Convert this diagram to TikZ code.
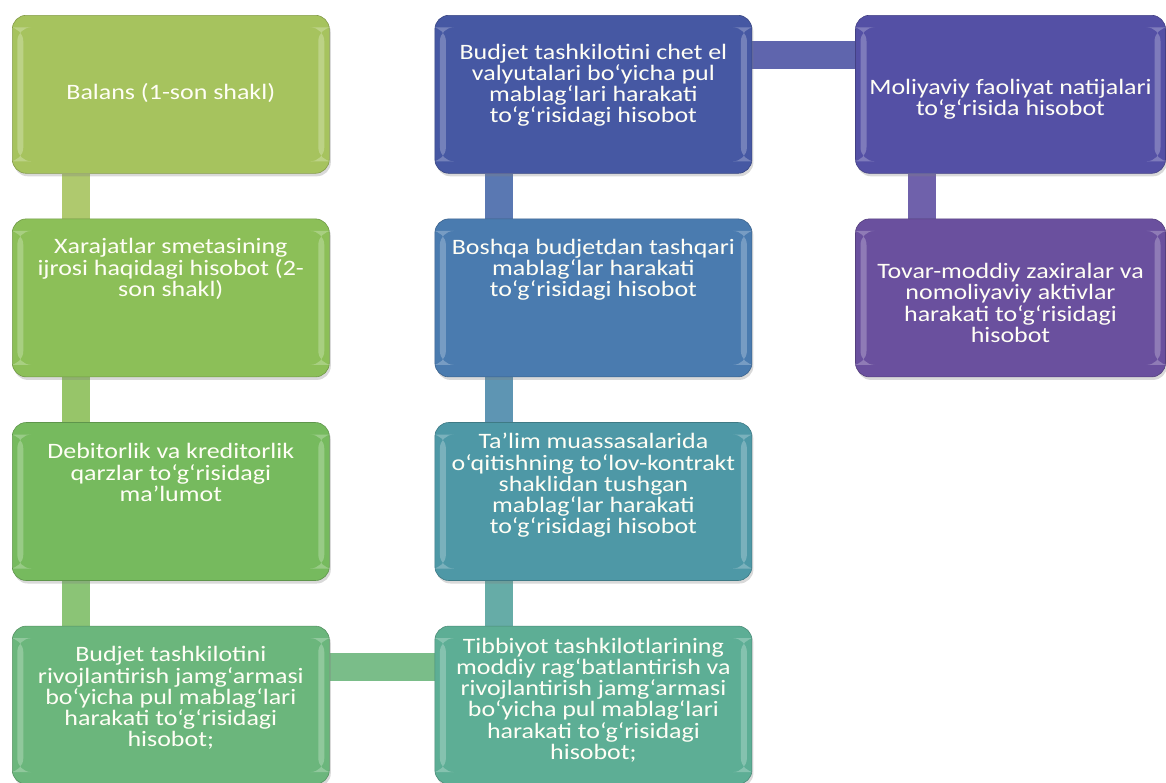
\documentclass[tikz,border=0pt]{standalone}
\usepackage{fontspec}
\newfontfamily\boxfont[FakeStretch=1.18]{Carlito}
\usetikzlibrary{positioning, shadows, backgrounds}

\definecolor{cBalans}{HTML}{A6C35E}
\definecolor{cXarajat}{HTML}{8CBF58}
\definecolor{cDebitor}{HTML}{76BA5E}
\definecolor{cRivoj}{HTML}{6BB67C}
\definecolor{cTibbiy}{HTML}{5DAE95}
\definecolor{cTalim}{HTML}{4E98A6}
\definecolor{cBoshqa}{HTML}{4A7BAF}
\definecolor{cValyuta}{HTML}{4658A3}
\definecolor{cMoliya}{HTML}{5450A5}
\definecolor{cTovar}{HTML}{6A509E}

\tikzset{
  repbox/.style={rectangle, rounded corners=14pt, fill=#1, draw=#1!80!black, line width=0.6pt,
    minimum width=317pt, minimum height=158pt, inner sep=0pt,
    drop shadow={shadow xshift=1.5pt, shadow yshift=-3pt, opacity=0.3},
    path picture={
      \fill[white, opacity=0.25] ([xshift=5pt,yshift=-12pt]path picture bounding box.north west)
        rectangle ([xshift=11pt,yshift=12pt]path picture bounding box.south west);
      \fill[white, opacity=0.25] ([xshift=-11pt,yshift=-12pt]path picture bounding box.north east)
        rectangle ([xshift=-5pt,yshift=12pt]path picture bounding box.south east);
    }},
  boxtext/.style={inner sep=0pt, align=center, text=white!96!yellow,
    font=\boxfont\fontsize{22}{21.2}\selectfont},
  bar/.style={line width=28pt}
}

\begin{document}
\begin{tikzpicture}[x=1pt, y=-1pt]
  \useasboundingbox (0,0) rectangle (1166,782);

  % boxes, first column
  \node[repbox=cBalans, anchor=north west] (a1) at (12,15) {};
  \node[repbox=cXarajat, below=45pt of a1] (a2) {};
  \node[repbox=cDebitor, below=45pt of a2] (a3) {};
  \node[repbox=cRivoj, below=45pt of a3] (a4) {};

  % second column
  \node[repbox=cValyuta, right=105pt of a1] (b1) {};
  \node[repbox=cBoshqa, below=45pt of b1] (b2) {};
  \node[repbox=cTalim, below=45pt of b2] (b3) {};
  \node[repbox=cTibbiy, below=45pt of b3] (b4) {};

  % third column
  \node[repbox=cMoliya, minimum width=310pt, right=103pt of b1] (c1) {};
  \node[repbox=cTovar, minimum width=310pt, below=45pt of c1] (c2) {};

  % texts
  \node[boxtext] (a1t) at ([yshift=1pt]a1.center) {Balans (1-son shakl)};
  \node[boxtext] (a2t) at ([yshift=29pt]a2.center) {Xarajatlar smetasining\\ijrosi haqidagi hisobot (2-\\son shakl)};
  \node[boxtext] (a3t) at ([yshift=29pt]a3.center) {Debitorlik va kreditorlik\\qarzlar to‘g‘risidagi\\ma’lumot};
  \node[boxtext] (a4t) at ([yshift=7pt]a4.center) {Budjet tashkilotini\\rivojlantirish jamg‘armasi\\bo‘yicha pul mablag‘lari\\harakati to‘g‘risidagi\\hisobot;};
  \node[boxtext] (b1t) at ([yshift=9pt]b1.center) {Budjet tashkilotini chet el\\valyutalari bo‘yicha pul\\mablag‘lari harakati\\to‘g‘risidagi hisobot};
  \node[boxtext] (b2t) at ([yshift=28pt]b2.center) {Boshqa budjetdan tashqari\\mablag‘lar harakati\\to‘g‘risidagi hisobot};
  \node[boxtext] (b3t) at ([yshift=16pt]b3.center) {Ta’lim muassasalarida\\o‘qitishning to‘lov-kontrakt\\shaklidan tushgan\\mablag‘lar harakati\\to‘g‘risidagi hisobot};
  \node[boxtext] (b4t) at ([yshift=5pt]b4.center) {Tibbiyot tashkilotlarining\\moddiy rag‘batlantirish va\\rivojlantirish jamg‘armasi\\bo‘yicha pul mablag‘lari\\harakati to‘g‘risidagi\\hisobot;};
  \node[boxtext] (c1t) at ([yshift=-5pt]c1.center) {Moliyaviy faoliyat natijalari\\to‘g‘risida hisobot};
  \node[boxtext] (c2t) at ([yshift=-5pt]c2.center) {Tovar-moddiy zaxiralar va\\nomoliyaviy aktivlar\\harakati to‘g‘risidagi\\hisobot};

  % connecting bars
  \begin{pgfonlayer}{background}
    \draw[bar, draw=cBalans!90!white] ([xshift=64pt]a1.south west) -- ([xshift=64pt]a2.north west);
    \draw[bar, draw=cXarajat!90!white] ([xshift=64pt]a2.south west) -- ([xshift=64pt]a3.north west);
    \draw[bar, draw=cDebitor!85!white] ([xshift=64pt]a3.south west) -- ([xshift=64pt]a4.north west);
    \draw[bar, draw=cRivoj!90!white] ([yshift=-41pt]a4.north east) -- ([yshift=-41pt]b4.north west);
    \draw[bar, draw=cTibbiy!50!cTalim!90!white] ([xshift=64pt]b3.south west) -- ([xshift=64pt]b4.north west);
    \draw[bar, draw=cTalim!50!cBoshqa!90!white] ([xshift=64pt]b2.south west) -- ([xshift=64pt]b3.north west);
    \draw[bar, draw=cBoshqa!50!cValyuta!90!white] ([xshift=64pt]b1.south west) -- ([xshift=64pt]b2.north west);
    \draw[bar, draw=cValyuta!50!cMoliya!90!white] ([yshift=-40pt]b1.north east) -- ([yshift=-40pt]c1.north west);
    \draw[bar, draw=cMoliya!50!cTovar!90!white] ([xshift=67pt]c1.south west) -- ([xshift=67pt]c2.north west);
  \end{pgfonlayer}
\end{tikzpicture}
\end{document}
